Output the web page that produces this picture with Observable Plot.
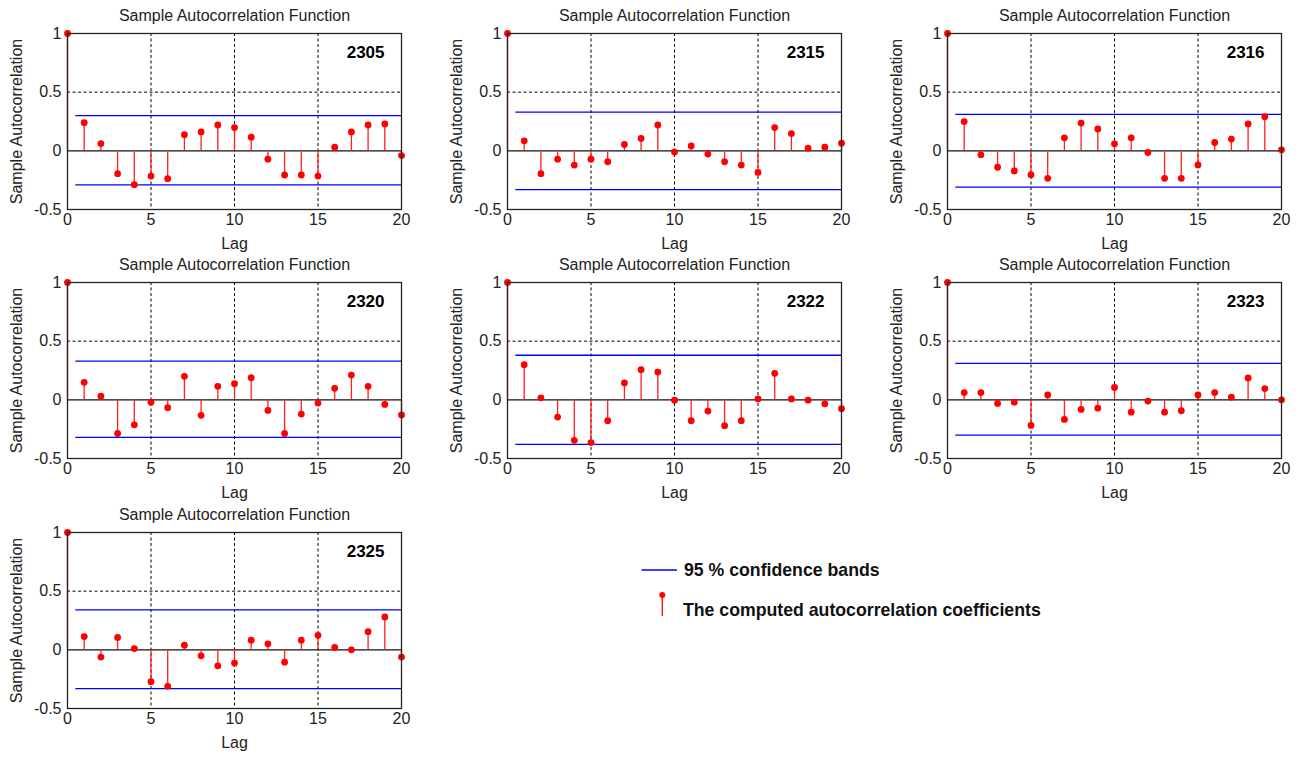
<!DOCTYPE html>
<html>
<head>
<meta charset="utf-8">
<script src="https://cdn.jsdelivr.net/npm/d3@7"></script>
<script src="https://cdn.jsdelivr.net/npm/@observablehq/plot@0.6"></script>
<style>
  html, body { margin: 0; padding: 0; background: #fff; overflow: hidden; }
  #page { position: relative; width: 1300px; height: 758px; background: #fff; }
  .panel { position: absolute; }
  .panel svg { font-family: "Liberation Sans", Arial, sans-serif; overflow: visible; }
  #legend { position: absolute; left: 630px; top: 550px; }
  #legend text { font-family: "Liberation Sans", Arial, sans-serif; font-weight: bold; font-size: 17.7px; fill: #111; }
</style>
</head>
<body>
<div id="page"></div>
<script>
// ---- Data ----
const lags = [0,1,2,3,4,5,6,7,8,9,10,11,12,13,14,15,16,17,18,19,20];
const stations = ["2305","2315","2316","2320","2322","2323","2325"];

const acf2305 = [1,0.24,0.062,-0.195,-0.288,-0.215,-0.237,0.138,0.161,0.22,0.198,0.116,-0.071,-0.206,-0.206,-0.215,0.031,0.161,0.22,0.229,-0.04];
const acf2315 = [1,0.085,-0.195,-0.071,-0.121,-0.071,-0.093,0.054,0.105,0.22,-0.011,0.042,-0.028,-0.093,-0.121,-0.184,0.198,0.147,0.023,0.031,0.065];
const acf2316 = [1,0.249,-0.034,-0.14,-0.171,-0.203,-0.234,0.111,0.237,0.186,0.06,0.111,-0.014,-0.234,-0.234,-0.12,0.071,0.1,0.229,0.291,0.009];
const acf2320 = [1,0.149,0.031,-0.287,-0.213,-0.02,-0.067,0.2,-0.132,0.115,0.138,0.188,-0.09,-0.287,-0.121,-0.028,0.098,0.211,0.115,-0.039,-0.129];
const acf2322 = [1,0.30,0.017,-0.147,-0.345,-0.364,-0.178,0.144,0.257,0.237,-0.003,-0.178,-0.096,-0.22,-0.178,0.008,0.226,0.008,-0.003,-0.034,-0.076];
const acf2323 = [1,0.062,0.062,-0.031,-0.02,-0.218,0.042,-0.167,-0.082,-0.071,0.105,-0.105,-0.011,-0.105,-0.093,0.042,0.062,0.023,0.186,0.096,0];
const acf2325 = [1,0.113,-0.062,0.105,0.011,-0.271,-0.311,0.04,-0.051,-0.136,-0.113,0.082,0.051,-0.105,0.082,0.124,0.02,0,0.155,0.28,-0.062];

const upperBound = [0.30, 0.33, 0.31, 0.33, 0.38, 0.31, 0.34];
const lowerBound = [-0.29, -0.33, -0.31, -0.32, -0.38, -0.30, -0.33];

const xTicks = [0,5,10,15,20];
const yTicks = [-0.5,0,0.5,1];
const gridXValues = [5,10,15];
const gridYValues = [0.5];

const titleText = "Sample Autocorrelation Function";
const xLabel = "Lag";
const yLabel = "Sample Autocorrelation";
const legendLabels = ["95 % confidence bands", "The computed autocorrelation coefficients"];

const series = [acf2305, acf2315, acf2316, acf2320, acf2322, acf2323, acf2325];

// ---- Layout ----
const colLeft = [0, 440, 880];
const rowTop = [0, 249, 499];
const page = document.getElementById("page");

stations.forEach((name, i) => {
  const data = lags.map((lag, j) => ({lag, r: series[i][j]}));
  const chart = Plot.plot({
    width: 420,
    height: 250,
    marginLeft: 67,
    marginRight: 19,
    marginTop: 33,
    marginBottom: 41,
    style: {fontSize: "16px", color: "#222", background: "transparent"},
    x: {domain: [0, 20]},
    y: {domain: [-0.5, 1]},
    marks: [
      Plot.gridX(gridXValues, {stroke: "#000", strokeOpacity: 1, strokeWidth: 1, strokeDasharray: "3,2.5"}),
      Plot.gridY(gridYValues, {stroke: "#000", strokeOpacity: 1, strokeWidth: 1, strokeDasharray: "3,2.5"}),
      Plot.ruleY([0], {stroke: "#111", strokeWidth: 1.3}),
      Plot.ruleY([upperBound[i], lowerBound[i]], {x1: 0.5, x2: 20, stroke: "#0000ff", strokeWidth: 1.3}),
      Plot.ruleX(data, {x: "lag", y1: 0, y2: "r", stroke: "#ff2020", strokeWidth: 1.3}),
      Plot.dot(data, {x: "lag", y: "r", r: 3.4, fill: "#ff0000", stroke: "none"}),
      Plot.frame({stroke: "#222", strokeWidth: 1.3}),
      Plot.axisX(xTicks, {tickSize: 0, tickPadding: 4, label: null, tickFormat: d => String(d), fill: "#222"}),
      Plot.axisY(yTicks, {tickSize: 0, tickPadding: 6, label: null, tickFormat: d => String(d), fill: "#222"}),
      Plot.text([titleText], {frameAnchor: "top", dy: -18, lineAnchor: "middle", fontSize: 16, fill: "#222"}),
      Plot.text([xLabel], {frameAnchor: "bottom", dy: 34, lineAnchor: "middle", fontSize: 16, fill: "#222"}),
      Plot.text([yLabel], {frameAnchor: "left", dx: -51, rotate: -90, textAnchor: "middle", lineAnchor: "middle", fontSize: 16, fill: "#222"}),
      Plot.text([name], {frameAnchor: "top-right", dx: -17, dy: 19, textAnchor: "end", lineAnchor: "middle", fontSize: 17, fontWeight: "bold", fill: "#000"})
    ]
  });
  const div = document.createElement("div");
  div.className = "panel";
  div.style.left = colLeft[i % 3] + "px";
  div.style.top = rowTop[Math.floor(i / 3)] + "px";
  div.appendChild(chart);
  page.appendChild(div);
});

// ---- Legend ----
const ns = "http://www.w3.org/2000/svg";
const leg = document.createElementNS(ns, "svg");
leg.setAttribute("id", "legend");
leg.setAttribute("width", 450);
leg.setAttribute("height", 80);
leg.innerHTML =
  `<line x1="11.5" x2="47" y1="20" y2="20" stroke="#0000ff" stroke-width="1.3"/>` +
  `<line x1="32.3" x2="32.3" y1="45" y2="66" stroke="#ff0000" stroke-width="1.3"/>` +
  `<circle cx="32.3" cy="45" r="3" fill="#ff0000"/>` +
  `<text x="54" y="20" dy="0.35em">${legendLabels[0]}</text>` +
  `<text x="53" y="60" dy="0.35em">${legendLabels[1]}</text>`;
page.appendChild(leg);
</script>
</body>
</html>
